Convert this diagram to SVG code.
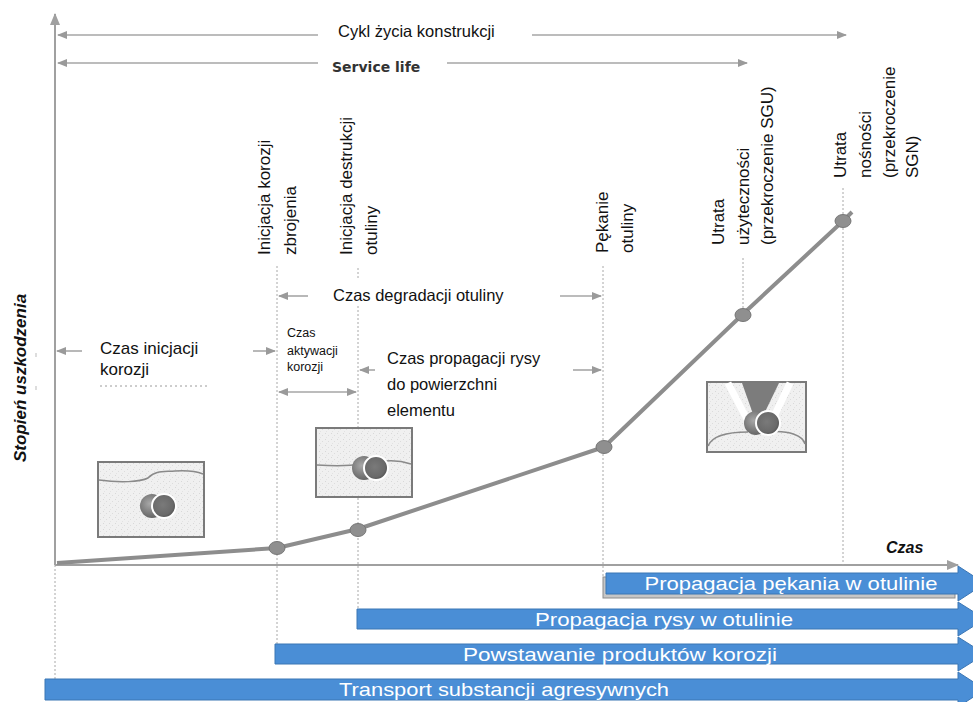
<svg xmlns="http://www.w3.org/2000/svg" width="973" height="702" viewBox="0 0 973 702">
  <style>
    .lbl { font-family: "Liberation Sans", Arial, sans-serif; fill: #111; }
    .v { font-size: 17px; }
    .h { font-size: 16.5px; }
    .small { font-size: 12.5px; }
    .bar { fill: #4a8ed6; stroke: #3b76b4; stroke-width: 1; }
    .bartxt { font-family: "Liberation Sans", Arial, sans-serif; font-size: 19px; fill: #ffffff; text-anchor: middle; }
    .dim { stroke: #a6a6a6; stroke-width: 1.6; fill: none; }
    .guide { stroke: #a8a8a8; stroke-width: 1; stroke-dasharray: 2 2; fill: none; }
    .axis { stroke: #a0a0a0; stroke-width: 2; fill: none; }
    .curve { stroke: #8d8d8d; stroke-width: 4; fill: none; stroke-linejoin: round; }
    .node { fill: #8f8f8f; stroke: #767676; stroke-width: 1; }
    .box { fill: url(#speckle); stroke: #7a7a7a; stroke-width: 2; }
    .rim { fill: none; stroke: #8a8a8a; stroke-width: 1.5; }
  </style>
  <defs>
    <marker id="ah" viewBox="0 0 10 8" refX="9" refY="4" markerWidth="10" markerHeight="8" markerUnits="userSpaceOnUse" orient="auto-start-reverse">
      <path d="M0,0 L10,4 L0,8 z" fill="#9a9a9a"/>
    </marker>
    <marker id="axh" viewBox="0 0 12 10" refX="11" refY="5" markerWidth="12" markerHeight="10" markerUnits="userSpaceOnUse" orient="auto">
      <path d="M0,0 L12,5 L0,10 z" fill="#a0a0a0"/>
    </marker>
    <!-- light concrete speckle -->
    <pattern id="speckle" width="6" height="6" patternUnits="userSpaceOnUse">
      <rect width="6" height="6" fill="#f0f0f0"/>
      <rect x="1" y="1" width="1" height="1" fill="#d8d8d8"/>
      <rect x="4" y="3" width="1" height="1" fill="#dcdcdc"/>
      <rect x="2" y="5" width="1" height="1" fill="#e2e2e2"/>
    </pattern>
    <radialGradient id="rodBack" cx="0.4" cy="0.4" r="0.7">
      <stop offset="0" stop-color="#a8a8a8"/>
      <stop offset="1" stop-color="#5a5a5a"/>
    </radialGradient>
    <radialGradient id="rodFront" cx="0.45" cy="0.45" r="0.6">
      <stop offset="0" stop-color="#7a7a7a"/>
      <stop offset="0.7" stop-color="#6a6a6a"/>
      <stop offset="1" stop-color="#4a4a4a"/>
    </radialGradient>
    <g id="rod">
      <circle cx="-6" cy="0" r="12" fill="url(#rodBack)"/>
      <circle cx="6" cy="0" r="12" fill="url(#rodFront)" stroke="#ffffff" stroke-width="2"/>
    </g>
  </defs>

  <!-- axes -->
  <g id="axes">
    <path class="axis" d="M55,565 V14" marker-end="url(#axh)"/>
    <path class="guide" d="M55,565 V682"/>
    <path class="axis" d="M55,565 H958" marker-end="url(#axh)"/>
    <line x1="36" y1="353" x2="36" y2="357" stroke="#bbb" stroke-width="1"/>
    <line x1="36" y1="386" x2="36" y2="390" stroke="#bbb" stroke-width="1"/>
    <text class="lbl" transform="translate(26,462) rotate(-90)" font-size="17" font-weight="bold" font-style="italic">Stopień uszkodzenia</text>
    <text class="lbl" x="886" y="553" font-size="16" font-weight="bold" font-style="italic">Czas</text>
  </g>

  <!-- event guide lines -->
  <g id="guides">
    <path class="guide" d="M277,266 V660"/>
    <path class="guide" d="M358,268 V280 M358,306 V612"/>
    <path class="guide" d="M603,266 V577"/>
    <path class="guide" d="M743,258 V314"/>
    <path class="guide" d="M843,188 V565"/>
    <path d="M100,386 H210" stroke="#9a9a9a" stroke-width="1" stroke-dasharray="2 3"/>
  </g>

  <!-- dimension arrows -->
  <g id="connectors">
    <path class="dim" d="M318,35 H58" marker-end="url(#ah)"/>
    <path class="dim" d="M532,35 H846" marker-end="url(#ah)"/>
    <path class="dim" d="M318,63 H58" marker-end="url(#ah)"/>
    <path class="dim" d="M447,63 H747" marker-end="url(#ah)"/>
    <path class="dim" d="M308,296 H279" marker-end="url(#ah)"/>
    <path class="dim" d="M560,296 H601" marker-end="url(#ah)"/>
    <path class="dim" d="M82,351 H57" marker-end="url(#ah)"/>
    <path class="dim" d="M253,351 H275" marker-end="url(#ah)"/>
    <path class="dim" d="M279,392 H356" marker-start="url(#ah)" marker-end="url(#ah)"/>
    <path class="dim" d="M375,370 H360" marker-end="url(#ah)"/>
    <path class="dim" d="M573,370 H601" marker-end="url(#ah)"/>
  </g>

  <!-- span labels -->
  <g id="span-labels">
    <text class="lbl" x="338" y="37" font-size="16.5">Cykl życia konstrukcji</text>
    <text x="332" y="72" font-family="'DejaVu Sans', Verdana, sans-serif" font-size="14" font-weight="bold" fill="#333">Service life</text>
    <text class="lbl h" x="333" y="301">Czas degradacji otuliny</text>
    <text class="lbl" x="100" y="354" font-size="17">Czas inicjacji</text>
    <text class="lbl" x="100" y="375" font-size="17">korozji</text>
    <text class="lbl small" x="287" y="337">Czas</text>
    <text class="lbl small" x="287" y="355">aktywacji</text>
    <text class="lbl small" x="287" y="371">korozji</text>
    <text class="lbl h" x="387" y="364">Czas propagacji rysy</text>
    <text class="lbl h" x="387" y="390">do powierzchni</text>
    <text class="lbl h" x="387" y="416">elementu</text>
  </g>

  <!-- event labels -->
  <g id="event-corrosion-start">
    <text class="lbl v" transform="translate(270,255) rotate(-90)"><tspan x="0" y="0">Inicjacja korozji</tspan><tspan x="0" y="26">zbrojenia</tspan></text>
  </g>
  <g id="event-cover-destruction">
    <text class="lbl v" transform="translate(352,255) rotate(-90)"><tspan x="0" y="0">Inicjacja destrukcji</tspan><tspan x="0" y="25">otuliny</tspan></text>
  </g>
  <g id="event-cover-cracking">
    <text class="lbl v" transform="translate(608,253) rotate(-90)"><tspan x="0" y="0">Pękanie</tspan><tspan x="0" y="25">otuliny</tspan></text>
  </g>
  <g id="event-sgu">
    <text class="lbl v" transform="translate(724,245) rotate(-90)"><tspan x="0" y="0">Utrata</tspan><tspan x="0" y="25">użyteczności</tspan><tspan x="0" y="49">(przekroczenie SGU)</tspan></text>
  </g>
  <g id="event-sgn">
    <text class="lbl v" transform="translate(846,178) rotate(-90)"><tspan x="0" y="0">Utrata</tspan><tspan x="0" y="25">nośności</tspan><tspan x="0" y="49">(przekroczenie</tspan><tspan x="0" y="72">SGN)</tspan></text>
  </g>

  <!-- damage curve -->
  <g id="damage-curve">
    <polyline class="curve" points="57,563 277,548 358,529 604,447 743,314 843,221 852,212"/>
    <ellipse class="node" cx="277" cy="548" rx="8" ry="6.5"/>
    <ellipse class="node" cx="358" cy="530" rx="8" ry="6.5"/>
    <ellipse class="node" cx="604" cy="447" rx="8" ry="6.5"/>
    <ellipse class="node" cx="743" cy="315" rx="8" ry="6.5"/>
    <ellipse class="node" cx="843" cy="221" rx="8" ry="6.5"/>
  </g>

  <!-- pictogram: intact cover -->
  <g id="picto-1">
    <rect class="box" x="98" y="462" width="106" height="75"/>
    <path class="rim" d="M99,480 C120,483 140,482 148,478 C155,470 165,472 175,471 C190,470 198,472 203,474"/>
    <use href="#rod" x="158" y="506"/>
  </g>

  <!-- pictogram: corrosion products pushing cover -->
  <g id="picto-2">
    <rect class="box" x="316" y="428" width="96" height="69"/>
    <path class="rim" d="M317,465 C335,466 350,466 360,464 M385,461 C395,460 405,462 411,464"/>
    <use href="#rod" x="370" y="468"/>
  </g>

  <!-- pictogram: spalled cover -->
  <g id="picto-3">
    <rect class="box" x="707" y="382" width="99" height="70"/>
    <path d="M728,383 L750,425 M790,383 L770,425" stroke="#ffffff" stroke-width="7" fill="none"/>
    <path d="M742,383 H779 L764,414 H753 Z" fill="#7c7c7c"/>
    <path class="rim" d="M708,446 C712,436 728,432 748,432 M768,432 C790,430 803,436 805,444"/>
    <use href="#rod" x="762" y="423"/>
  </g>

  <!-- process bars -->
  <g id="bar-cracking">
    <rect x="603" y="577" width="352" height="21" fill="#c6c6c6" stroke="#8c8c8c" stroke-width="1"/>
    <path class="bar" d="M606,573 H958 V566 L985,583.5 L958,601 V594 H606 Z"/>
    <text class="bartxt" x="791" y="590" textLength="293" lengthAdjust="spacingAndGlyphs">Propagacja pękania w otulinie</text>
  </g>
  <g id="bar-crack-propagation">
    <path class="bar" d="M357,609 H958 V602 L985,619 L958,636 V629 H357 Z"/>
    <text class="bartxt" x="664" y="625.5" textLength="258" lengthAdjust="spacingAndGlyphs">Propagacja rysy w otulinie</text>
  </g>
  <g id="bar-corrosion-products">
    <path class="bar" d="M275,644 H958 V637 L985,654 L958,671 V664 H275 Z"/>
    <text class="bartxt" x="620" y="660.5" textLength="314" lengthAdjust="spacingAndGlyphs">Powstawanie produktów korozji</text>
  </g>
  <g id="bar-transport">
    <path class="bar" d="M45,679 H958 V672 L985,689.5 L958,707 V700 H45 Z"/>
    <text class="bartxt" x="504" y="696" textLength="330" lengthAdjust="spacingAndGlyphs">Transport substancji agresywnych</text>
  </g>
</svg>
